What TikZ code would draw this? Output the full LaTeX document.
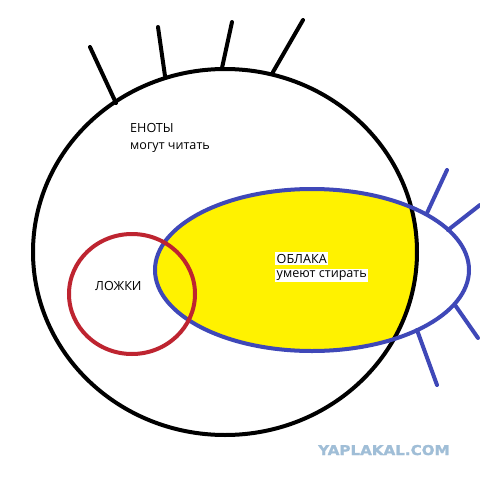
\documentclass[tikz,border=0pt]{standalone}
\usepackage{fontspec}
\setmainfont{Open Sans}
\newfontfamily\wmfont{DejaVu Sans}[BoldFeatures={FakeBold=1.5}]
\definecolor{inkblack}{RGB}{0,0,0}
\definecolor{inkblue}{RGB}{63,72,184}
\definecolor{inkred}{RGB}{190,36,48}
\definecolor{inkyellow}{RGB}{255,242,0}
\definecolor{wmblue}{RGB}{160,190,215}
\tikzset{
  stroke/.style={line width=4pt, line cap=round},
  label/.style={inner sep=0pt, anchor=base west, font=\fontsize{12.6}{14}\selectfont},
}
\begin{document}
\begin{tikzpicture}[x=1pt,y=-1pt]
\useasboundingbox (0,0) rectangle (480,480);
\fill[white] (0,0) rectangle (480,480);
% yellow fill: clouds inside raccoons
\begin{scope}
  \clip (225,252) ellipse [x radius=192pt, y radius=183pt];
  \fill[inkyellow] (312,270) ellipse [x radius=157pt, y radius=81pt];
\end{scope}
% big black circle and hairs
\draw[stroke, inkblack] (225,252) ellipse [x radius=192pt, y radius=183pt];
\draw[stroke, inkblack] (90,47) -- (116,103);
\draw[stroke, inkblack] (158,27) -- (165,76);
\draw[stroke, inkblack] (232,22) -- (222,68);
\draw[stroke, inkblack] (303,20) -- (273,72);
% blue ellipse and hairs
\draw[stroke, inkblue] (312,270) ellipse [x radius=157pt, y radius=81pt];
\draw[stroke, inkblue] (447,170) -- (427,213);
\draw[stroke, inkblue] (480,205) -- (448,230);
\draw[stroke, inkblue] (455,305) -- (478,338);
\draw[stroke, inkblue] (417,330) -- (437,385);
% red circle
\draw[stroke, inkred] (132,294) ellipse [x radius=63pt, y radius=60pt];
% texts
\node[label] (enoty) at (130,132) {ЕНОТЫ};
\node[label] (enoty2) at (130,149) {могут читать};
\node[label] (lozhki) at (95,290) {ЛОЖКИ};
\node[label, fill=white, inner sep=1.5pt] (oblaka) at (275,263) {ОБЛАКА};
\node[label, fill=white, inner sep=1.5pt] (oblaka2) at (275,277) {умеют стирать};
\node[inner sep=0pt, anchor=base west, xscale=1.12, transform shape, text=wmblue, font=\wmfont\bfseries\fontsize{13.5}{14}\selectfont] (wm) at (318,455) {YAPLAKAL.COM};
\end{tikzpicture}
\end{document}
